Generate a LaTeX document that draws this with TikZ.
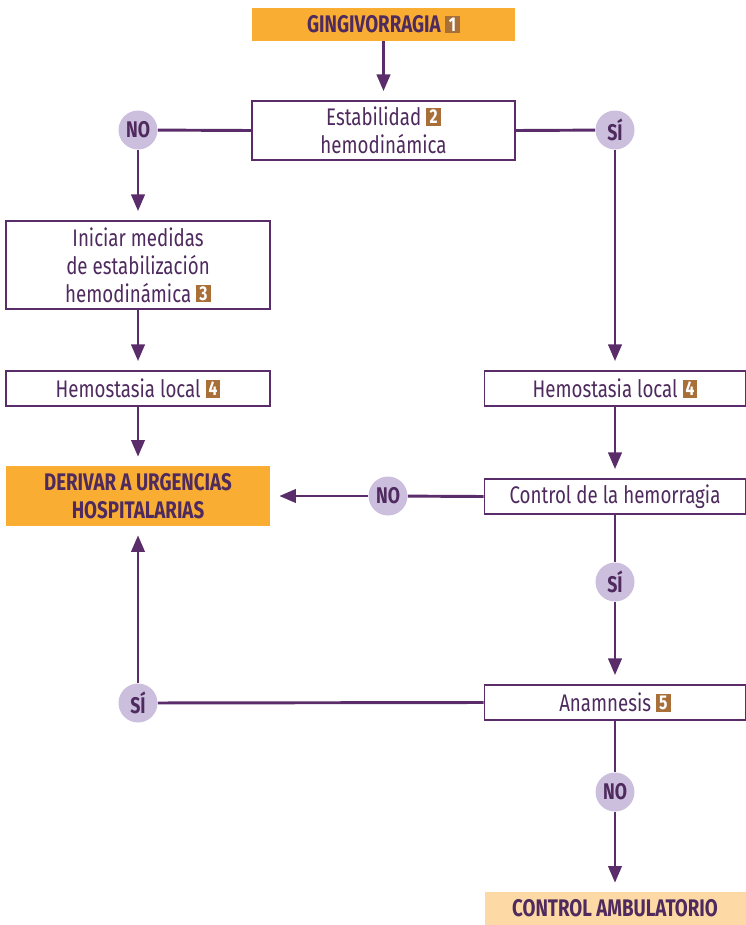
\documentclass[tikz,border=0pt]{standalone}
\usepackage{fontspec}
\setmainfont[FakeStretch=0.78]{Fira Sans}
\usetikzlibrary{arrows.meta}

\definecolor{ink}{HTML}{4E2A5E}
\definecolor{wire}{HTML}{5A2D6A}
\definecolor{orangefill}{HTML}{F9AE33}
\definecolor{paleorange}{HTML}{FDD9A6}
\definecolor{lavender}{HTML}{CBBFDD}
\definecolor{badge}{HTML}{A96F38}

% small brown square carrying a reference number
\newcommand\numbox[1]{{\fboxsep=0pt\colorbox{badge}{\parbox[b][13pt][c]{11pt}{\centering\color{white}\bfseries\fontsize{15}{15}\selectfont #1}}}}

\tikzset{
  box/.style={draw=wire, line width=1.3pt, fill=white, text=ink, inner sep=0pt,
    align=center, font=\fontsize{18}{21}\selectfont},
  endbox/.style={fill=orangefill, text=ink, inner sep=0pt, align=center,
    font=\fontsize{18}{21}\selectfont\bfseries},
  softbox/.style={fill=paleorange, text=ink, inner sep=0pt, align=center,
    font=\fontsize{18}{21}\selectfont\bfseries},
  answer/.style={circle, fill=lavender, text=ink, inner sep=0pt,
    minimum size=29.25pt, font=\fontsize{17}{17}\selectfont\bfseries},
  link/.style={draw=wire, line width=2.2pt},
  arr/.style={link, -{Triangle[width=10pt,length=12.5pt]}, shorten >=6.75pt},
}

\begin{document}
\begin{tikzpicture}[x=0.75pt, y=-0.75pt]
\useasboundingbox (0,0) rectangle (746,925);

% boxes
\node[endbox, minimum width=197.25pt, minimum height=24.75pt] (g1) at (383.5,24.5) {GINGIVORRAGIA \numbox{1}};
\node[box, minimum width=197.25pt, minimum height=44.25pt] (est) at (383.5,130.5) {Estabilidad \numbox{2}\\hemodinámica};
\node[box, minimum width=198pt, minimum height=66pt] (ini) at (138,265) {Iniciar medidas\\de estabilización\\hemodinámica \numbox{3}};
\node[box, minimum width=198pt, minimum height=26.25pt] (hemL) at (138,388.5) {Hemostasia local \numbox{4}};
\node[endbox, minimum width=198pt, minimum height=45pt] (der) at (138,496) {DERIVAR A URGENCIAS\\HOSPITALARIAS};
\node[box, minimum width=195.75pt, minimum height=26.25pt] (hemR) at (615,388.5) {Hemostasia local \numbox{4}};
\node[box, minimum width=195.75pt, minimum height=26.25pt] (ctrl) at (615,496.5) {Control de la hemorragia};
\node[box, minimum width=195.75pt, minimum height=26.25pt] (anam) at (615,702.5) {Anamnesis \numbox{5}};
\node[softbox, minimum width=195.75pt, minimum height=24.75pt] (amb) at (615,908.5) {CONTROL AMBULATORIO};

% decision answers
\node[answer] (no1) at (138,130) {NO};
\node[answer] (si1) at (615,130) {SÍ};
\node[answer] (no2) at (388,496) {NO};
\node[answer] (si2) at (615,582) {SÍ};
\node[answer] (si3) at (138,703) {SÍ};
\node[answer] (no3) at (615,792) {NO};

% connectors
\draw[arr] (g1) -- (est);
\draw[link] (est.west) -- (no1);
\draw[link] (est.east) -- (si1);
\draw[arr] (no1) -- (ini);
\draw[arr] (ini) -- (hemL);
\draw[arr] (hemL) -- (der);
\draw[arr] (si1) -- (hemR);
\draw[arr] (hemR) -- (ctrl);
\draw[link] (ctrl.west) -- (no2);
\draw[arr] (no2) -- (der.east);
\draw[link] (ctrl) -- (si2);
\draw[arr] (si2) -- (anam);
\draw[link] (anam.west) -- (si3);
\draw[arr] (si3) -- (der.south);
\draw[link] (anam) -- (no3);
\draw[arr] (no3) -- (amb);
\end{tikzpicture}
\end{document}
